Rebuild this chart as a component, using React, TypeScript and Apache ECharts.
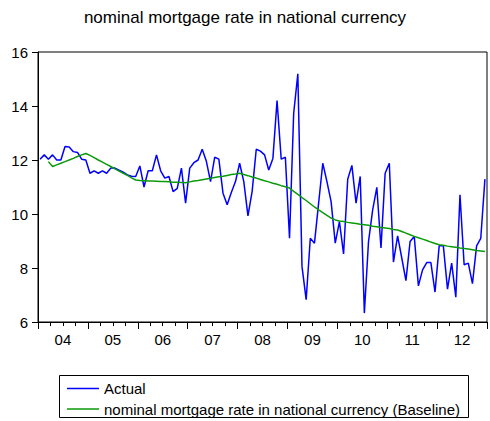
import React, { useEffect, useRef } from "react";
import * as echarts from "echarts";

const titleText = "nominal mortgage rate in national currency";
const yearLabels = ["04", "05", "06", "07", "08", "09", "10", "11", "12"];
const years = [2004, 2005, 2006, 2007, 2008, 2009, 2010, 2011, 2012];
const monthsPerYear = 12;

const actual = [
  // 2004
  12.03, 12.19, 12.03, 12.19, 12.0, 12.0, 12.5, 12.48, 12.31, 12.28, 12.03, 12.0,
  // 2005
  11.51, 11.6, 11.51, 11.6, 11.51, 11.7, 11.7, 11.62, 11.55, 11.45, 11.4, 11.39,
  // 2006
  11.78, 11.0, 11.6, 11.6, 12.19, 11.6, 11.33, 11.39, 10.83, 10.95, 11.7, 10.4,
  // 2007
  11.7, 11.9, 12.0, 12.4, 11.95, 11.2, 12.1, 12.03, 10.77, 10.34, 10.8, 11.2,
  // 2008
  11.88, 11.2, 9.93, 10.83, 12.4, 12.33, 12.19, 11.63, 12.06, 14.2, 12.03, 12.1,
  // 2009
  9.1, 13.73, 15.19, 8.06, 6.83, 9.1, 8.92, 10.4, 11.88, 11.2, 10.46, 8.92,
  // 2010
  9.72, 8.52, 11.29, 11.8, 10.4, 11.39, 6.33, 8.98, 10.15, 10.99, 8.74, 11.51,
  // 2011
  11.88, 8.22, 9.19, 8.37, 7.53, 8.98, 9.17, 7.34, 7.93, 8.2, 8.2, 7.11,
  // 2012
  8.82, 8.82, 7.22, 8.18, 6.92, 10.71, 8.12, 8.18, 7.42, 8.82, 9.1, 11.29,
];

const baseline = [
  // 2004
  null, null, 11.94, 11.76, 11.82, 11.88, 11.94, 12.0, 12.06, 12.13, 12.19, 12.24,
  // 2005
  12.17, 12.09, 12.0, 11.92, 11.84, 11.76, 11.67, 11.59, 11.51, 11.43, 11.34, 11.26,
  // 2006
  11.24, 11.23, 11.22, 11.22, 11.21, 11.2, 11.2, 11.19, 11.18, 11.18, 11.17, 11.16,
  // 2007
  11.19, 11.22, 11.24, 11.27, 11.3, 11.32, 11.35, 11.38, 11.4, 11.43, 11.46, 11.48,
  // 2008
  11.51, 11.46, 11.42, 11.37, 11.33, 11.28, 11.23, 11.19, 11.14, 11.1, 11.05, 11.01,
  // 2009
  10.96, 10.84, 10.73, 10.61, 10.5, 10.38, 10.26, 10.15, 10.05, 9.95, 9.85, 9.78,
  // 2010
  9.74, 9.72, 9.69, 9.67, 9.65, 9.62, 9.6, 9.58, 9.55, 9.53, 9.5, 9.48,
  // 2011
  9.46, 9.43, 9.41, 9.35, 9.29, 9.23, 9.17, 9.12, 9.07, 9.02, 8.96, 8.91,
  // 2012
  8.86, 8.84, 8.81, 8.79, 8.77, 8.74, 8.72, 8.7, 8.68, 8.65, 8.63, 8.61,
];

const months: string[] = [];
years.forEach((y) => {
  for (let m = 1; m <= monthsPerYear; m++) months.push(`${y}M${String(m).padStart(2, "0")}`);
});

const FONT = "'Liberation Sans', Arial, sans-serif";
const nMonths = months.length;

export default function App() {
  const ref = useRef<HTMLDivElement>(null);
  useEffect(() => {
    document.body.style.margin = "0";
    if (!ref.current) return;
    const chart = echarts.init(ref.current, null, { renderer: "svg" });
    const hiddenValueAxis = {
      type: "value",
      position: "bottom",
      min: 0,
      max: nMonths,
      splitLine: { show: false },
      axisLine: { show: false },
    };
    chart.setOption({
      animation: false,
      backgroundColor: "#fff",
      title: {
        text: titleText,
        left: "center",
        top: 4,
        padding: [5, 5, 5, 19],
        textStyle: { fontSize: 17, fontWeight: "normal", color: "#000", fontFamily: FONT },
      },
      grid: {
        left: 38,
        top: 52,
        right: 2,
        bottom: 99,
        show: true,
        borderColor: "#000",
        borderWidth: 1,
        backgroundColor: "transparent",
      },
      legend: {
        orient: "vertical",
        left: 59,
        top: 375,
        padding: [6, 4, 2, 8],
        itemGap: 5.5,
        itemWidth: 32,
        itemHeight: 1.5,
        icon: "rect",
        textStyle: { fontSize: 15, color: "#000", fontFamily: FONT },
        data: [
          { name: "Actual" },
          { name: "nominal mortgage rate in national currency (Baseline)" },
        ],
      },
      graphic: [
        {
          type: "rect",
          shape: { x: 59.5, y: 375.5, width: 409, height: 42 },
          style: { fill: "none", stroke: "#000", lineWidth: 1 },
          silent: true,
        },
      ],
      xAxis: [
        {
          type: "category",
          data: months,
          boundaryGap: true,
          position: "bottom",
          axisLine: { show: true, lineStyle: { color: "#000", width: 1 } },
          axisTick: { show: false },
          axisLabel: { show: false },
          splitLine: { show: false },
        },
        {
          ...hiddenValueAxis,
          interval: 3,
          axisTick: { show: true, length: 4, inside: false, lineStyle: { color: "#000", width: 1 } },
          axisLabel: { show: false },
        },
        {
          ...hiddenValueAxis,
          interval: 12,
          axisTick: { show: true, length: 7, inside: false, lineStyle: { color: "#000", width: 1 } },
          axisLabel: { show: false },
        },
        {
          ...hiddenValueAxis,
          interval: 6,
          axisTick: { show: false },
          axisLabel: {
            show: true,
            margin: 10,
            fontSize: 15,
            color: "#000",
            fontFamily: FONT,
            showMinLabel: true,
            showMaxLabel: true,
            formatter: (v: number) =>
              v % 12 === 6 ? yearLabels[(v - 6) / 12] ?? "" : "",
          },
        },
      ],
      yAxis: {
        type: "value",
        min: 6,
        max: 16,
        interval: 2,
        axisLine: { show: true, lineStyle: { color: "#000", width: 1 } },
        axisTick: { show: true, length: 6, inside: false, lineStyle: { color: "#000" } },
        axisLabel: { margin: 10, fontSize: 15, color: "#000", fontFamily: FONT },
        splitLine: { show: false },
      },
      series: [
        {
          name: "Actual",
          type: "line",
          xAxisIndex: 0,
          data: actual,
          showSymbol: false,
          symbol: "none",
          lineStyle: { color: "#0000ff", width: 1.5 },
          itemStyle: { color: "#0000ff" },
        },
        {
          name: "nominal mortgage rate in national currency (Baseline)",
          type: "line",
          xAxisIndex: 0,
          data: baseline,
          showSymbol: false,
          symbol: "none",
          lineStyle: { color: "#0a9a0a", width: 1.5 },
          itemStyle: { color: "#0a9a0a" },
        },
      ],
    });
    return () => chart.dispose();
  }, []);
  return <div ref={ref} style={{ width: 490, height: 421 }} />;
}
